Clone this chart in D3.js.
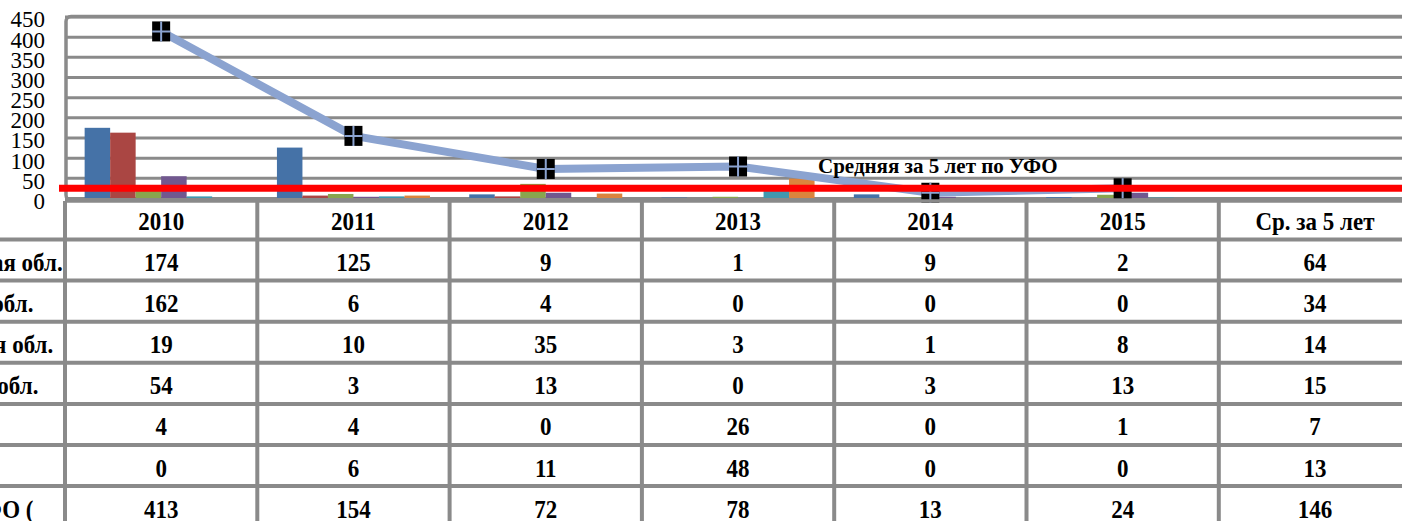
<!DOCTYPE html>
<html>
<head>
<meta charset="utf-8">
<script src="https://cdn.jsdelivr.net/npm/d3@7"></script>
<style>
  body { margin: 0; background: #fff; overflow: hidden; }
  svg { display: block; font-family: "Liberation Serif", "Times New Roman", serif; }
</style>
</head>
<body>
<script>
// Categories of the data table (last column is the 5-year mean, no bars)
var categories = ["2010", "2011", "2012", "2013", "2014", "2015", "Ср. за 5 лет"];
var years = categories.slice(0, 6);

// Row labels and values per region
var rowLabels = ["Свердловская обл.", "Тюменская обл.", "Челябинская обл.", "Курганская обл.", "ХМАО", "ЯНАО", "Итого по УФО ("];
var sverdlovsk = [174, 125, 9, 1, 9, 2, 64];
var tyumen = [162, 6, 4, 0, 0, 0, 34];
var chelyabinsk = [19, 10, 35, 3, 1, 8, 14];
var kurgan = [54, 3, 13, 0, 3, 13, 15];
var hmao = [4, 4, 0, 26, 0, 1, 7];
var yanao = [0, 6, 11, 48, 0, 0, 13];
var totalUfo = [413, 154, 72, 78, 13, 24, 146];

// Mean line level and its caption
var meanValue = 24;
var meanLabel = "Средняя за 5 лет по УФО";

var yTicks = [0, 50, 100, 150, 200, 250, 300, 350, 400, 450];

var barSeries = [sverdlovsk, tyumen, chelyabinsk, kurgan, hmao, yanao];
var tableRows = [sverdlovsk, tyumen, chelyabinsk, kurgan, hmao, yanao, totalUfo];
var barColors = ["#4572a7", "#aa4643", "#89a54e", "#71588f", "#4198af", "#db843d"];

var svgWidth = 1402, svgHeight = 521;
var plotLeft = 65, plotTop = 16.5, zeroY = 198;
var colWidth = 192.3;
var headerTop = 201, headerBottom = 239.5, rowHeight = 41.1;
var gridColor = "#8a8a8a";

var svg = d3.select("body").append("svg")
  .attr("width", svgWidth)
  .attr("height", svgHeight);

// Scales
var x0 = d3.scaleBand()
  .domain(categories)
  .range([plotLeft, plotLeft + colWidth * categories.length])
  .padding(0);

var x1 = d3.scaleBand()
  .domain(d3.range(barSeries.length))
  .range([0, x0.bandwidth()])
  .paddingInner(0)
  .paddingOuter(0.77);

var y = d3.scaleLinear()
  .domain([0, 450])
  .range([zeroY, plotTop]);

// Gridlines
svg.append("g")
  .attr("transform", `translate(${plotLeft}, 0)`)
  .call(d3.axisLeft(y).tickValues(yTicks).tickSize(-(svgWidth - plotLeft + 10)).tickFormat(""))
  .call(g => g.select(".domain").remove())
  .call(g => g.selectAll("line").attr("stroke", gridColor).attr("stroke-width", 3));

// Plot area border (rounded top-left corner)
svg.append("rect")
  .attr("x", plotLeft + 1)
  .attr("y", y(450))
  .attr("width", svgWidth)
  .attr("height", zeroY - y(450) + 2)
  .attr("rx", 5)
  .attr("fill", "none")
  .attr("stroke", gridColor)
  .attr("stroke-width", 3.5);

// Y axis labels
svg.append("g")
  .attr("transform", `translate(${plotLeft}, 3)`)
  .call(d3.axisLeft(y).tickValues(yTicks).tickSize(0).tickPadding(20))
  .call(g => g.select(".domain").remove())
  .call(g => g.selectAll("text")
    .attr("fill", "#000")
    .style("font-family", "Liberation Serif")
    .style("font-size", "23px"));

// Bars
var groups = svg.append("g").selectAll("g")
  .data(years)
  .enter()
  .append("g")
  .attr("transform", d => `translate(${x0(d)}, 0)`);

groups.selectAll("rect")
  .data((yr, i) => barSeries.map((s, k) => ({ k: k, v: s[i] })))
  .enter()
  .append("rect")
  .attr("x", d => x1(d.k))
  .attr("width", x1.bandwidth())
  .attr("y", d => y(d.v))
  .attr("height", d => zeroY - y(d.v))
  .attr("fill", d => barColors[d.k]);

// Total line (years only)
var lineData = years.map((yr, i) => ({ cat: yr, v: totalUfo[i] }));
var line = d3.line()
  .x(d => x0(d.cat) + x0.bandwidth() / 2)
  .y(d => y(d.v));

svg.append("path")
  .datum(lineData)
  .attr("d", line)
  .attr("fill", "none")
  .attr("stroke", "#8ba3d0")
  .attr("stroke-width", 8)
  .attr("stroke-linejoin", "round");

var markers = svg.append("g").selectAll("g")
  .data(lineData)
  .enter()
  .append("g")
  .attr("transform", d => `translate(${x0(d.cat) + x0.bandwidth() / 2}, ${y(d.v)})`);

markers.append("rect")
  .attr("x", -9).attr("y", -10)
  .attr("width", 18).attr("height", 20)
  .attr("fill", "#000");
markers.append("path")
  .attr("d", "M0,-10V10M-9,0H9")
  .attr("stroke", "#8ba3d0")
  .attr("stroke-width", 2);

// Red mean line + caption
svg.append("line")
  .attr("x1", plotLeft - 6)
  .attr("x2", svgWidth)
  .attr("y1", y(meanValue))
  .attr("y2", y(meanValue))
  .attr("stroke", "#ff0000")
  .attr("stroke-width", 7);

svg.append("text")
  .attr("x", 818)
  .attr("y", 173)
  .attr("font-size", "21px")
  .attr("font-weight", "bold")
  .attr("fill", "#000")
  .text(meanLabel);

// Data table
var table = svg.append("g");
var rowTop = i => headerBottom + i * rowHeight;
var stretch = "scale(1,1.12)";

// horizontal lines
table.append("line")
  .attr("x1", plotLeft).attr("x2", svgWidth)
  .attr("y1", headerTop).attr("y2", headerTop)
  .attr("stroke", gridColor).attr("stroke-width", 3.5);
table.selectAll("line.row")
  .data(d3.range(tableRows.length + 1))
  .enter()
  .append("line")
  .attr("class", "row")
  .attr("x1", 0).attr("x2", svgWidth)
  .attr("y1", d => rowTop(d)).attr("y2", d => rowTop(d))
  .attr("stroke", gridColor).attr("stroke-width", 4);

// vertical lines
table.selectAll("line.col")
  .data(d3.range(categories.length + 1))
  .enter()
  .append("line")
  .attr("class", "col")
  .attr("x1", d => plotLeft + d * colWidth).attr("x2", d => plotLeft + d * colWidth)
  .attr("y1", headerTop).attr("y2", svgHeight)
  .attr("stroke", gridColor).attr("stroke-width", 4);

// header texts
table.selectAll("text.head")
  .data(categories)
  .enter()
  .append("text")
  .attr("class", "head")
  .attr("transform", d => `translate(${x0(d) + x0.bandwidth() / 2}, ${(headerTop + headerBottom) / 2 + 10}) ${stretch}`)
  .attr("text-anchor", "middle")
  .attr("font-size", "23px")
  .attr("font-weight", "bold")
  .text(d => d);

// row labels (left part is cropped off the picture)
table.selectAll("text.label")
  .data(rowLabels)
  .enter()
  .append("text")
  .attr("class", "label")
  .attr("transform", (d, i) => `translate(-131, ${rowTop(i) + rowHeight / 2 + 11}) ${stretch}`)
  .attr("font-size", "23px")
  .attr("font-weight", "bold")
  .text(d => d);

// row values
tableRows.forEach(function(row, i) {
  table.selectAll(null)
    .data(row)
    .enter()
    .append("text")
    .attr("transform", (d, j) => `translate(${x0(categories[j]) + x0.bandwidth() / 2}, ${rowTop(i) + rowHeight / 2 + 11}) ${stretch}`)
    .attr("text-anchor", "middle")
    .attr("font-size", "23px")
    .attr("font-weight", "bold")
    .text(d => d);
});
</script>
</body>
</html>
